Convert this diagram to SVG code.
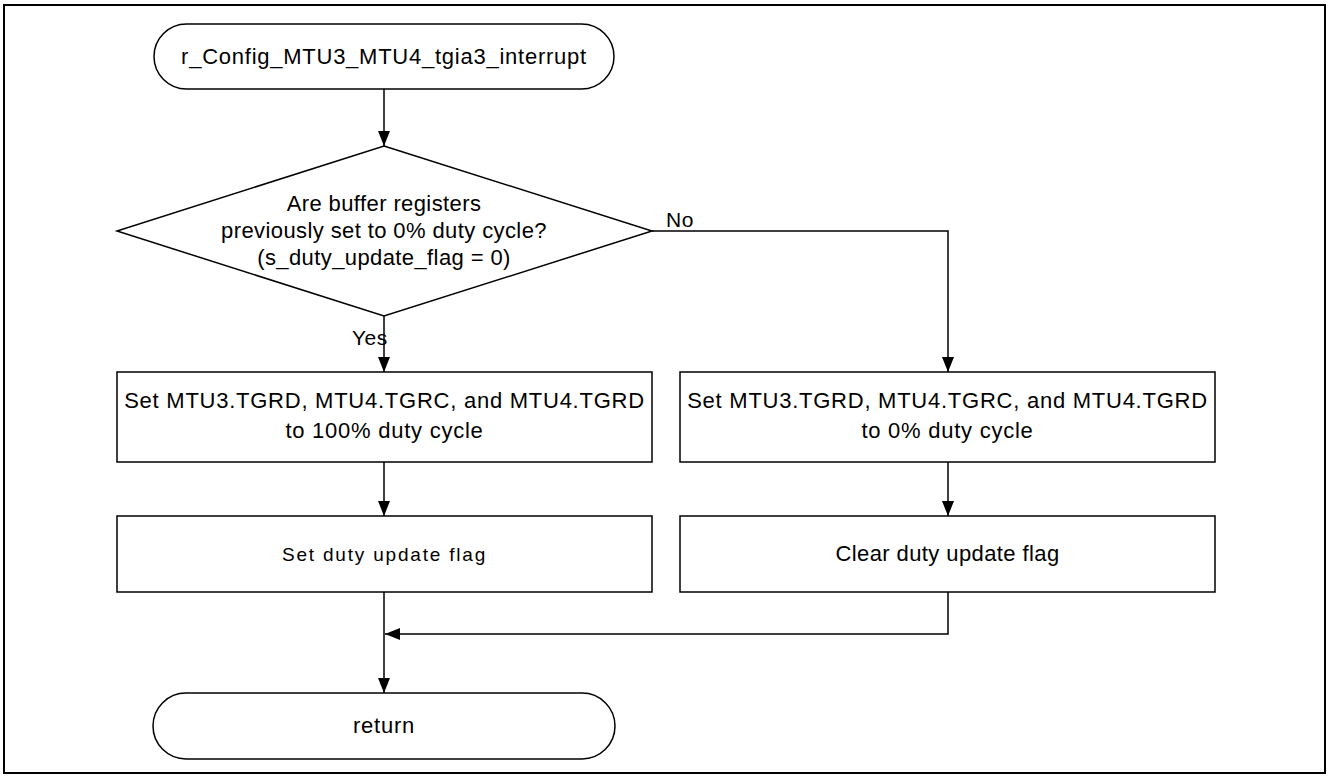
<svg xmlns="http://www.w3.org/2000/svg" width="1328" height="778" viewBox="0 0 1328 778">
  <style>
    .shape { fill: #ffffff; stroke: #000000; stroke-width: 1.5; }
    .conn { fill: none; stroke: #000000; stroke-width: 1.5; }
    .txt { font-family: "Liberation Sans", Arial, sans-serif; font-size: 22px; fill: #000000; text-anchor: middle; letter-spacing: 0.75px; }
    .dtxt { font-family: "Liberation Sans", Arial, sans-serif; font-size: 22px; fill: #000000; text-anchor: middle; letter-spacing: 0.4px; }
    .lbl { font-family: "Liberation Sans", Arial, sans-serif; font-size: 21px; fill: #000000; letter-spacing: 0.5px; }
    .gothic { font-family: "Liberation Sans", Arial, sans-serif; font-size: 19px; fill: #000000; text-anchor: middle; letter-spacing: 1.8px; }
  </style>
  <defs>
    <marker id="arrow" viewBox="0 0 15 12" refX="15" refY="6" markerWidth="15" markerHeight="12" markerUnits="userSpaceOnUse" orient="auto">
      <path d="M0,0 L15,6 L0,12 Z" fill="#000000"/>
    </marker>
  </defs>
  <rect x="0" y="0" width="1328" height="778" fill="#ffffff"/>
  <rect x="4" y="5" width="1321" height="768" fill="none" stroke="#000000" stroke-width="2"/>

  <g id="connectors">
    <line class="conn" x1="384" y1="89" x2="384" y2="146" marker-end="url(#arrow)"/>
    <line class="conn" x1="384" y1="316" x2="384" y2="372" marker-end="url(#arrow)"/>
    <polyline class="conn" points="652,231 948,231 948,372" marker-end="url(#arrow)"/>
    <line class="conn" x1="384" y1="462" x2="384" y2="516" marker-end="url(#arrow)"/>
    <line class="conn" x1="948" y1="462" x2="948" y2="516" marker-end="url(#arrow)"/>
    <line class="conn" x1="384" y1="592" x2="384" y2="693" marker-end="url(#arrow)"/>
    <polyline class="conn" points="948,592 948,634 385,634" marker-end="url(#arrow)"/>
    <text class="lbl" x="352" y="345">Yes</text>
    <text class="lbl" x="666" y="227">No</text>
  </g>

  <g id="start">
    <rect class="shape" x="154" y="24" width="460" height="65" rx="32.5" ry="32.5"/>
    <text class="txt" x="384" y="64">r_Config_MTU3_MTU4_tgia3_interrupt</text>
  </g>

  <g id="decision">
    <polygon class="shape" points="384,146 652,231 384,316 117,231"/>
    <text class="dtxt" x="384" y="211">Are buffer registers</text>
    <text class="dtxt" x="384" y="238">previously set to 0% duty cycle?</text>
    <text class="dtxt" x="384" y="265">(s_duty_update_flag = 0)</text>
  </g>

  <g id="set100">
    <rect class="shape" x="117" y="372" width="535" height="90"/>
    <text class="txt" x="384.5" y="408">Set MTU3.TGRD, MTU4.TGRC, and MTU4.TGRD</text>
    <text class="txt" x="384.5" y="438">to 100% duty cycle</text>
  </g>

  <g id="set0">
    <rect class="shape" x="680" y="372" width="535" height="90"/>
    <text class="txt" x="947.5" y="408">Set MTU3.TGRD, MTU4.TGRC, and MTU4.TGRD</text>
    <text class="txt" x="947.5" y="438">to 0% duty cycle</text>
  </g>

  <g id="setflag">
    <rect class="shape" x="117" y="516" width="535" height="76"/>
    <text class="gothic" x="384.5" y="561">Set duty update flag</text>
  </g>

  <g id="clearflag">
    <rect class="shape" x="680" y="516" width="535" height="76"/>
    <text class="dtxt" x="947.5" y="561">Clear duty update flag</text>
  </g>

  <g id="return">
    <rect class="shape" x="153" y="693" width="462" height="66" rx="33" ry="33"/>
    <text class="txt" x="384" y="733">return</text>
  </g>
</svg>
